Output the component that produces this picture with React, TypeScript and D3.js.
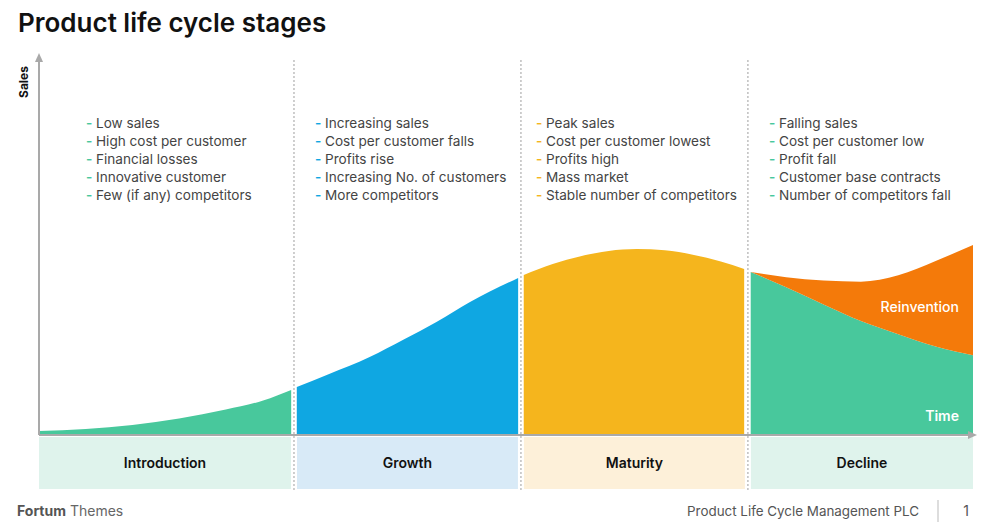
import React from "react";
import * as d3 from "d3";

// ---- Data ----
const stageNames = ["Introduction", "Growth", "Maturity", "Decline"];
const stageBounds = [0, 27.3, 51.6, 75.9, 100]; // time units
const stageBullets = [
  ["Low sales", "High cost per customer", "Financial losses", "Innovative customer", "Few (if any) competitors"],
  ["Increasing sales", "Cost per customer falls", "Profits rise", "Increasing No. of customers", "More competitors"],
  ["Peak sales", "Cost per customer lowest", "Profits high", "Mass market", "Stable number of competitors"],
  ["Falling sales", "Cost per customer low", "Profit fall", "Customer base contracts", "Number of competitors fall"],
];
const introTime = [0, 5, 10, 15, 20, 24, 27];
const introSales = [1.1, 1.6, 2.7, 4.4, 6.8, 9.2, 12];
const growthTime = [27.6, 31, 35.4, 39, 42.6, 46.1, 51.3];
const growthSales = [12.8, 16.2, 20.8, 25.4, 30.2, 35.4, 41.9];
const maturityTime = [51.9, 55, 58, 61, 64, 67, 70, 73, 75.5];
const maturitySales = [42.7, 45.6, 47.7, 49.1, 49.6, 49.3, 48.1, 46.3, 44.3];
const declineTime = [76.2, 80, 84, 88, 92, 96, 100];
const declineSales = [43.5, 39.4, 34.8, 30.4, 26.9, 23.6, 21.3];
const reinventionSales = [43.5, 42.1, 41.2, 40.9, 42.6, 46.4, 50.7];

const stageColors = ["#48c89c", "#0fa7e2", "#f5b51d", "#48c89c"];
const bandColors = ["#dff3ec", "#d8eaf7", "#fdf0d9", "#dff3ec"];

const W = 998;
const H = 529;
const FONT = "Inter, 'DejaVu Sans', sans-serif";

export default function App() {
  const x = d3.scaleLinear().domain([0, 100]).range([39, 973]);
  const y = d3.scaleLinear().domain([0, 100]).range([435, 60]);

  const area = d3
    .area<[number, number]>()
    .x((d) => x(d[0]))
    .y0(y(0))
    .y1((d) => y(d[1]))
    .curve(d3.curveMonotoneX);

  const zip = (a: number[], b: number[]) => a.map((v, i) => [v, b[i]] as [number, number]);

  const reinvArea = d3
    .area<number>()
    .x((_, i) => x(declineTime[i]))
    .y0((_, i) => y(declineSales[i]))
    .y1((d) => y(d))
    .curve(d3.curveMonotoneX);

  const gap = 3;
  const dividers = stageBounds.slice(1, 4);
  const axisColor = "#a9a9a9";

  return (
    <svg
      width={W}
      height={H}
      style={{ position: "absolute", left: 0, top: 0, background: "#fff" }}
      fontFamily={FONT}
    >
      <text x={18} y={32} fontSize={26} fontWeight={600} fill="#111">
        Product life cycle stages
      </text>

      {/* bands */}
      {stageNames.map((s, i) => {
        const x0 = i === 0 ? x(stageBounds[i]) : x(stageBounds[i]) + gap;
        const x1 = i === 3 ? x(stageBounds[i + 1]) : x(stageBounds[i + 1]) - gap;
        return (
          <g key={s}>
            <rect x={x0} y={437} width={x1 - x0} height={52} fill={bandColors[i]} />
            <text
              x={(x0 + x1) / 2}
              y={468}
              textAnchor="middle"
              fontSize={14}
              fontWeight={600}
              fill="#111"
            >
              {s}
            </text>
          </g>
        );
      })}

      {/* areas */}
      <path d={area(zip(introTime, introSales)) || ""} fill={stageColors[0]} />
      <path d={area(zip(growthTime, growthSales)) || ""} fill={stageColors[1]} />
      <path d={area(zip(maturityTime, maturitySales)) || ""} fill={stageColors[2]} />
      <path d={area(zip(declineTime, declineSales)) || ""} fill={stageColors[3]} />
      <path d={reinvArea(reinventionSales) || ""} fill="#f47a0a" />

      <text x={959} y={312} textAnchor="end" fontSize={14} fontWeight={500} fill="#fff">
        Reinvention
      </text>
      <text x={959} y={421} textAnchor="end" fontSize={14} fontWeight={600} fill="#fff">
        Time
      </text>

      {/* dividers */}
      {dividers.map((d, i) => (
        <line
          key={i}
          x1={x(d)}
          x2={x(d)}
          y1={60}
          y2={491}
          stroke="#b5b5b5"
          strokeWidth={1.3}
          strokeDasharray="2,2"
        />
      ))}

      {/* axes */}
      <line x1={39} x2={39} y1={60} y2={435} stroke={axisColor} strokeWidth={2} />
      <path d="M39,53 L35,62 L43,62 Z" fill={axisColor} />
      <line x1={39} x2={970} y1={435} y2={435} stroke={axisColor} strokeWidth={2} />
      <path d="M977,435 L968,431 L968,439 Z" fill={axisColor} />
      <text
        transform="translate(28,82) rotate(-90)"
        textAnchor="middle"
        fontSize={12}
        fontWeight={700}
        fill="#111"
      >
        Sales
      </text>

      {/* bullets */}
      {stageBullets.map((lines, i) => {
        const bx = [86, 315, 536, 769][i];
        return (
          <g key={i}>
            {lines.map((l, j) => (
              <g key={j}>
                <text x={bx} y={128 + j * 18} fontSize={13.6} fontWeight={600} fill={stageColors[i]}>
                  -
                </text>
                <text x={bx + 10} y={128 + j * 18} fontSize={13.6} fill="#444">
                  {l}
                </text>
              </g>
            ))}
          </g>
        );
      })}

      {/* footer */}
      <text x={17} y={516} fontSize={14} fill="#555">
        <tspan fontWeight={700}>Fortum</tspan>
        <tspan fill="#666"> Themes</tspan>
      </text>
      <text x={919} y={516} textAnchor="end" fontSize={13.4} fill="#555">
        Product Life Cycle Management PLC
      </text>
      <line x1={938} x2={938} y1={500} y2={522} stroke="#bbb" strokeWidth={1} />
      <text x={969} y={516} textAnchor="end" fontSize={14} fill="#555">
        1
      </text>
    </svg>
  );
}
